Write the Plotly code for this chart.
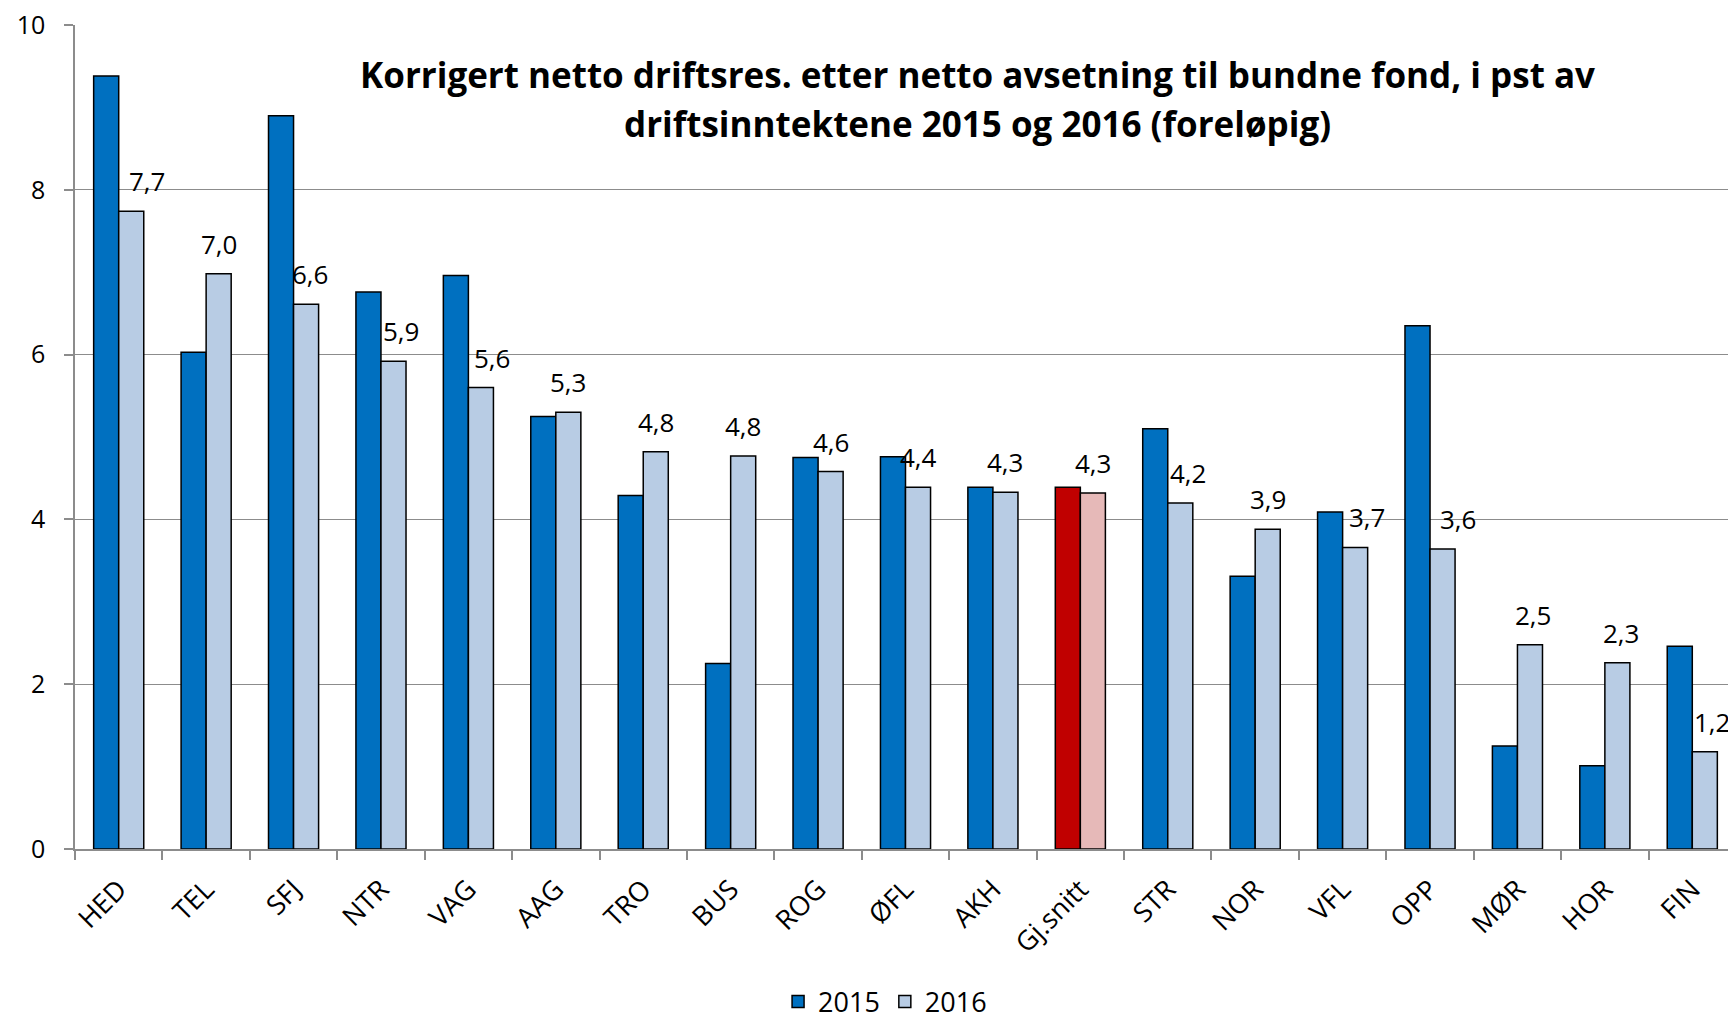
import plotly.graph_objects as go

categories = ["HED", "TEL", "SFJ", "NTR", "VAG", "AAG", "TRO", "BUS", "ROG", "ØFL",
              "AKH", "Gj.snitt", "STR", "NOR", "VFL", "OPP", "MØR", "HOR", "FIN"]
values_2015 = [9.38, 6.03, 8.9, 6.76, 6.96, 5.25, 4.29, 2.25, 4.75, 4.76,
               4.39, 4.39, 5.10, 3.31, 4.09, 6.35, 1.25, 1.01, 2.46]
values_2016 = [7.74, 6.98, 6.61, 5.92, 5.6, 5.3, 4.82, 4.77, 4.58, 4.39,
               4.33, 4.32, 4.2, 3.88, 3.66, 3.64, 2.48, 2.26, 1.18]
series_names = ["2015", "2016"]
title_lines = ["Korrigert netto driftsres. etter netto avsetning til bundne fond, i pst av",
               "driftsinntektene 2015 og 2016 (foreløpig)"]
highlight = "Gj.snitt"

# label nudges (pixels) to mimic manually placed labels
label_dx = [16, 0, 4, 8, 11, 0, 0, 0, 0, 0, 0, 0, 8, 0, 12, 15, 3, 4, 7]

FONT = "Open Sans"
BLUE, LIGHT = "#0070C0", "#B8CCE4"
RED, PINK = "#C00000", "#E6B9B8"
GRID = "#8C8C8C"

c2015 = [RED if c == highlight else BLUE for c in categories]
c2016 = [PINK if c == highlight else LIGHT for c in categories]

fig = go.Figure()
fig.add_trace(go.Bar(x=categories, y=values_2015, name=series_names[0],
                     marker=dict(color=c2015, line=dict(color="black", width=1.5))))
fig.add_trace(go.Bar(x=categories, y=values_2016, name=series_names[1],
                     marker=dict(color=c2016, line=dict(color="black", width=1.5))))

annotations = []
for c, v, dx in zip(categories, values_2016, label_dx):
    annotations.append(dict(x=c, y=v, xref="x", yref="y", showarrow=False,
                            text=f"{v:.1f}".replace(".", ","),
                            xshift=12.5 + dx, yshift=30, yanchor="middle",
                            font=dict(family=FONT, size=26, color="black")))
annotations.append(dict(x=0.5436, y=0.9405, xref="paper", yref="paper", showarrow=False,
                        text=f"<b>{title_lines[0]}</b>", yanchor="middle",
                        font=dict(family=FONT, size=35, color="black")))
annotations.append(dict(x=0.5436, y=0.881, xref="paper", yref="paper", showarrow=False,
                        text=f"<b>{title_lines[1]}</b>", yanchor="middle",
                        font=dict(family=FONT, size=35, color="black")))

fig.update_layout(
    width=1728, height=1012,
    margin=dict(l=67, r=0, t=17, b=171, autoexpand=False),
    paper_bgcolor="white", plot_bgcolor="white",
    barmode="group", bargap=0.427, bargroupgap=0,
    font=dict(family=FONT, size=26, color="black"),
    showlegend=True,
    legend=dict(orientation="h", x=0.4877, y=-0.1857, xanchor="center", yanchor="middle",
                font=dict(family=FONT, size=27, color="black"), itemwidth=30,
                tracegroupgap=0),
    annotations=annotations,
    xaxis=dict(showline=True, linecolor=GRID, linewidth=1.5, ticks="outside",
               tickson="boundaries", ticklen=9, tickcolor=GRID, tickwidth=1.5,
               tickangle=-45, ticklabelstandoff=12, showgrid=False, automargin=False,
               tickfont=dict(family=FONT, size=27, color="black")),
    yaxis=dict(range=[0, 10], dtick=2, showline=True, linecolor=GRID, linewidth=1.5,
               ticks="outside", ticklen=9, tickcolor=GRID, tickwidth=1.5,
               showgrid=True, gridcolor=GRID, gridwidth=1.2, zeroline=False,
               ticklabelstandoff=14, automargin=False, ticklabeloverflow="allow",
               tickfont=dict(family=FONT, size=25, color="black")),
)

fig.write_html("out.html")
